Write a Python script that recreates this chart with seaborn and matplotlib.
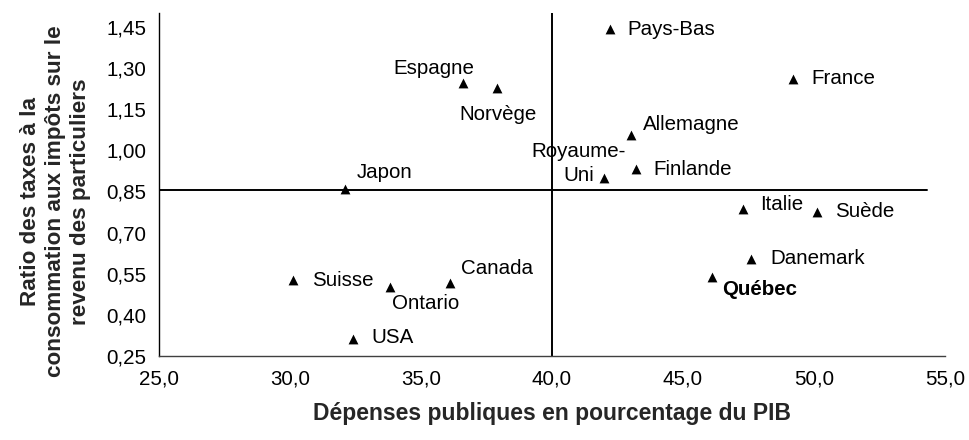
import matplotlib
matplotlib.use("Agg")
import matplotlib.pyplot as plt
import seaborn as sns
import pandas as pd
from matplotlib.ticker import FuncFormatter, FixedLocator

# ---- data ----
countries = ["Pays-Bas", "France", "Espagne", "Norvège", "Allemagne", "Royaume-\nUni",
             "Finlande", "Japon", "Italie", "Suède", "Danemark", "Québec",
             "Suisse", "Ontario", "Canada", "USA"]
depenses = [42.2, 49.2, 36.6, 37.9, 43.0, 42.0, 43.2, 32.1, 47.3, 50.1, 47.6, 46.1,
            30.1, 33.8, 36.1, 32.4]
ratio = [1.44, 1.26, 1.245, 1.225, 1.055, 0.90, 0.93, 0.86, 0.787, 0.775, 0.605, 0.538,
         0.526, 0.502, 0.517, 0.311]
x_ticks = [25.0, 30.0, 35.0, 40.0, 45.0, 50.0, 55.0]
y_ticks = [0.25, 0.40, 0.55, 0.70, 0.85, 1.00, 1.15, 1.30, 1.45]
mean_x = 40.0
mean_y = 0.855
vline_y = [0.25, 1.50]
hline_x = [25.0, 54.3]

# label offsets in pixels (dx, dy, ha)
offsets = {
    "Pays-Bas": (18, 0, "left"), "France": (18, 0, "left"),
    "Espagne": (11, 14, "right"), "Norvège": (1, -26, "center"),
    "Allemagne": (12, 11, "left"), "Royaume-\nUni": (-26, 14, "center"),
    "Finlande": (18, 0, "left"), "Japon": (12, 16, "left"),
    "Italie": (17, 4, "left"), "Suède": (18, 0, "left"),
    "Danemark": (19, 0, "left"), "Québec": (10, -13, "left"),
    "Suisse": (19, 0, "left"), "Ontario": (2, -17, "left"),
    "Canada": (11, 14, "left"), "USA": (18, 2, "left"),
}

df = pd.DataFrame({"pays": countries, "dep": depenses, "ratio": ratio})

sns.set_style("white")
plt.rcParams["font.family"] = ["Liberation Sans", "DejaVu Sans"]

fig = plt.figure(figsize=(9.7, 4.4), dpi=100)
ax = fig.add_axes([159 / 970, 1 - 356 / 440, (945 - 159) / 970, (356 - 13) / 440])

sns.scatterplot(data=df, x="dep", y="ratio", marker="^", color="black", s=50,
                edgecolor="black", linewidth=0, ax=ax, zorder=3)

ax.plot([mean_x, mean_x], vline_y, color="black", lw=1.4, zorder=2)
ax.plot(hline_x, [mean_y, mean_y], color="black", lw=1.4, zorder=2)

for name, xv, yv in zip(countries, depenses, ratio):
    dx, dy, ha = offsets[name]
    ax.annotate(name, (xv, yv), xytext=(dx, dy), textcoords="offset pixels",
                ha=ha, va="center", fontsize=14.8, linespacing=1.35,
                fontweight="bold" if name == "Québec" else "normal", color="black")

ax.set_xlim(25, 55)
ax.set_ylim(0.25, 1.50)
ax.xaxis.set_major_locator(FixedLocator(x_ticks))
ax.yaxis.set_major_locator(FixedLocator(y_ticks))
ax.xaxis.set_major_formatter(FuncFormatter(lambda v, p: f"{v:.1f}".replace(".", ",")))
ax.yaxis.set_major_formatter(FuncFormatter(lambda v, p: f"{v:.2f}".replace(".", ",")))

for s in ["top", "right"]:
    ax.spines[s].set_visible(False)
ax.spines["left"].set_color("black")
ax.spines["bottom"].set_color("#404040")
ax.spines["left"].set_linewidth(1.0)
ax.spines["bottom"].set_linewidth(1.0)
ax.tick_params(axis="both", direction="out", length=5, width=1, color="black",
               labelsize=14.8, labelcolor="black", pad=4)
ax.tick_params(axis="x", pad=5)

ax.set_xlabel("Dépenses publiques en pourcentage du PIB", fontsize=16.5,
              fontweight="bold")
ax.xaxis.set_label_coords(0.5, -0.135)
ax.set_ylabel("Ratio des taxes à la\nconsommation aux impôts sur le\nrevenu des particuliers",
              fontsize=16.2, fontweight="bold", linespacing=1.25)
ax.yaxis.set_label_coords(-0.087, 0.45)

fig.savefig("out.png", dpi=100)
